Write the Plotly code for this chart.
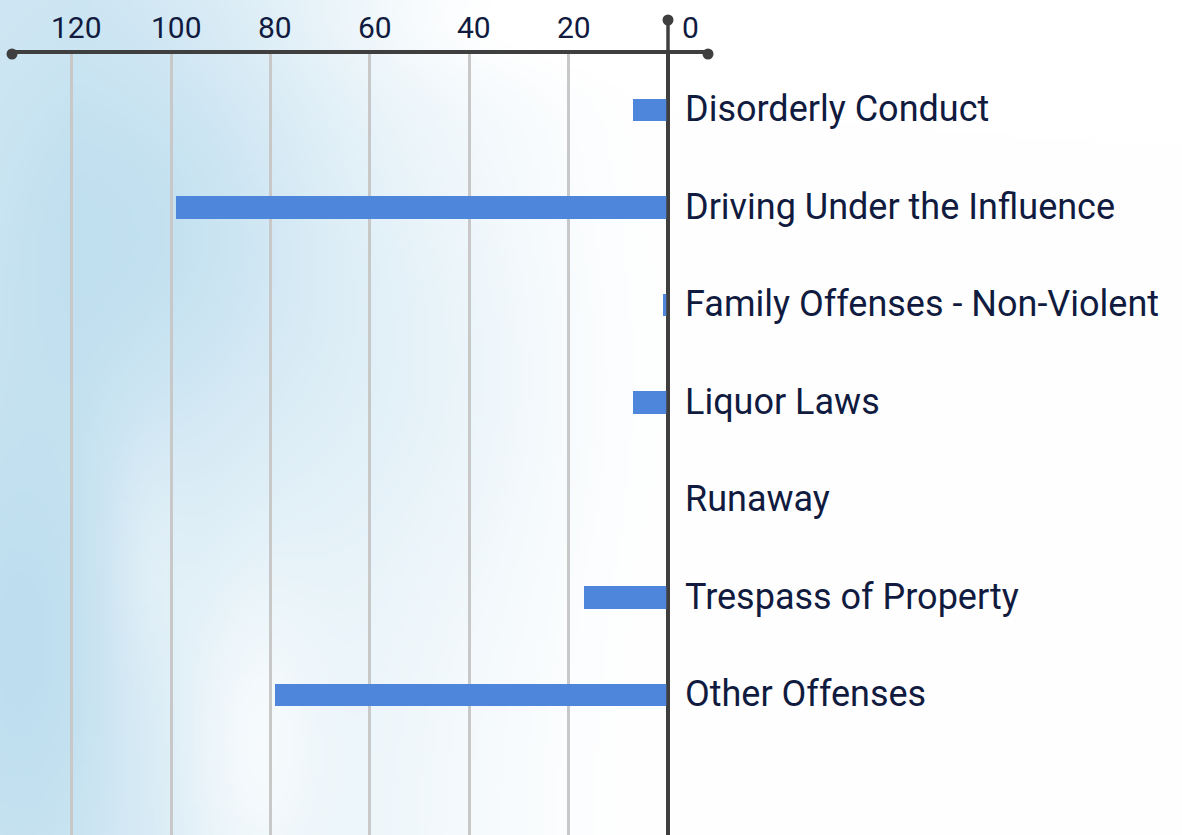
import base64
import struct
import zlib

import numpy as np
import plotly.graph_objects as go

# Data
CATEGORIES = [
    "Disorderly Conduct",
    "Driving Under the Influence",
    "Family Offenses - Non-Violent",
    "Liquor Laws",
    "Runaway",
    "Trespass of Property",
    "Other Offenses",
]
COUNTS = [7, 99, 1, 7, 0, 17, 79]
TICK_VALUES = [120, 100, 80, 60, 40, 20, 0]
TICK_LABELS = ["120", "100", "80", "60", "40", "20", "0"]

W, H = 1182, 835
M_L, M_R, M_T, M_B = 12, 474, 54, 0
PLOT_W = W - M_L - M_R
PLOT_H = H - M_T - M_B

FONT = "Roboto, 'Noto Sans', sans-serif"
TEXT_COLOR = "#101b3f"
BAR_COLOR = "#4e86dc"
AXIS_COLOR = "#3f3f3f"
GRID_COLOR = "#c8c8c8"


def watercolor_png(w=236, h=167):
    """Soft blue wash for the background, encoded as a PNG data URI."""
    sx, sy = W / w, H / h
    xs = (np.arange(w) + 0.5) * sx
    ys = (np.arange(h) + 0.5) * sy
    px, py = np.meshgrid(xs, ys)

    def blob(cx, cy, rx, ry, amp):
        return amp * np.exp(-(((px - cx) / rx) ** 2 + ((py - cy) / ry) ** 2))

    inten = 0.70 * np.clip((640 - px) / 560, 0, 1) ** 1.3
    inten += blob(170, 230, 170, 200, 0.33)
    inten += blob(20, 650, 90, 260, 0.30)
    inten += blob(420, 380, 160, 220, 0.15)
    inten -= blob(250, 740, 70, 170, 0.30)
    inten -= blob(150, 560, 40, 120, 0.15)
    inten -= blob(480, 20, 160, 60, 0.15)
    inten = np.clip(inten, 0, 1)

    deep = np.array([190, 222, 239], dtype=float)
    white = np.array([255, 255, 255], dtype=float)
    rgb = (white - inten[..., None] * (white - deep)).astype(np.uint8)

    raw = b"".join(b"\x00" + rgb[r].tobytes() for r in range(h))

    def chunk(tag, data):
        c = struct.pack(">I", len(data)) + tag + data
        return c + struct.pack(">I", zlib.crc32(tag + data) & 0xFFFFFFFF)

    png = b"\x89PNG\r\n\x1a\n"
    png += chunk(b"IHDR", struct.pack(">IIBBBBB", w, h, 8, 2, 0, 0, 0))
    png += chunk(b"IDAT", zlib.compress(raw, 9))
    png += chunk(b"IEND", b"")
    return "data:image/png;base64," + base64.b64encode(png).decode()


# px -> data helpers for the layout (x: 4.97 px per unit, zero at x=668)
PX_PER_UNIT = 4.97
ZERO_PX = 668
x_left = (ZERO_PX - M_L) / PX_PER_UNIT
x_right = (ZERO_PX - (W - M_R)) / PX_PER_UNIT

ROW_PX = 97.5
FIRST_ROW_PX = 110
y_top = (M_T - FIRST_ROW_PX) / ROW_PX
y_bottom = (H - M_B - FIRST_ROW_PX) / ROW_PX


def paper_y(py):
    return (H - M_B - py) / PLOT_H


def paper_x(px):
    return (px - M_L) / PLOT_W


fig = go.Figure()

fig.add_trace(go.Bar(
    x=COUNTS,
    y=list(range(len(CATEGORIES))),
    orientation="h",
    width=0.235,
    marker={"color": BAR_COLOR, "line": {"width": 0}},
    hovertext=CATEGORIES,
    hoverinfo="text+x",
    showlegend=False,
))

# Category labels to the right of the zero line
for i, name in enumerate(CATEGORIES):
    fig.add_annotation(
        x=0, y=i, xref="x", yref="y",
        text=name, showarrow=False,
        xanchor="left", yanchor="middle", xshift=15, yshift=1,
        font={"family": FONT, "size": 36, "color": TEXT_COLOR},
    )

# Tick labels above the top axis
for v, lab in zip(TICK_VALUES, TICK_LABELS):
    fig.add_annotation(
        x=v, y=paper_y(27), xref="x", yref="paper",
        text=lab, showarrow=False,
        xanchor="center", yanchor="middle",
        xshift=22 if v == 0 else 5,
        font={"family": FONT, "size": 30, "color": TEXT_COLOR},
    )

# Zero line extension above the axis, with end dots
fig.add_shape(type="line", xref="x", yref="paper",
              x0=0, x1=0, y0=paper_y(H), y1=paper_y(20),
              line={"color": AXIS_COLOR, "width": 3.5}, layer="above")
dot_r = 5.5
for cx, cy in [(ZERO_PX, 20), (M_L, M_T), (W - M_R, M_T)]:
    fig.add_shape(type="circle", xref="paper", yref="paper",
                  x0=paper_x(cx - dot_r), x1=paper_x(cx + dot_r),
                  y0=paper_y(cy + dot_r), y1=paper_y(cy - dot_r),
                  fillcolor=AXIS_COLOR, line={"width": 0}, layer="above")

fig.add_layout_image(
    source=watercolor_png(),
    xref="paper", yref="paper",
    x=paper_x(0), y=paper_y(0),
    sizex=W / PLOT_W, sizey=H / PLOT_H,
    xanchor="left", yanchor="top",
    sizing="stretch", layer="below",
)

fig.update_layout(
    width=W, height=H,
    margin={"l": M_L, "r": M_R, "t": M_T, "b": M_B, "pad": 0},
    paper_bgcolor="white",
    plot_bgcolor="rgba(0,0,0,0)",
    bargap=0,
    font={"family": FONT, "color": TEXT_COLOR},
)
fig.update_xaxes(
    range=[x_left, x_right],
    side="top",
    tickvals=TICK_VALUES[:-1],
    showticklabels=False,
    ticks="",
    showgrid=True, gridcolor=GRID_COLOR, gridwidth=3,
    zeroline=True, zerolinecolor=AXIS_COLOR, zerolinewidth=3.5,
    showline=True, linecolor=AXIS_COLOR, linewidth=4,
    fixedrange=True,
)
fig.update_yaxes(
    range=[y_bottom, y_top],
    showticklabels=False, ticks="",
    showgrid=False, zeroline=False, showline=False,
    fixedrange=True,
)

# drop the default body margin so the figure sits at the window's corner
fig.write_html(
    "out.html",
    config={"displayModeBar": False},
    post_script="document.body.style.margin = '0px';",
)
